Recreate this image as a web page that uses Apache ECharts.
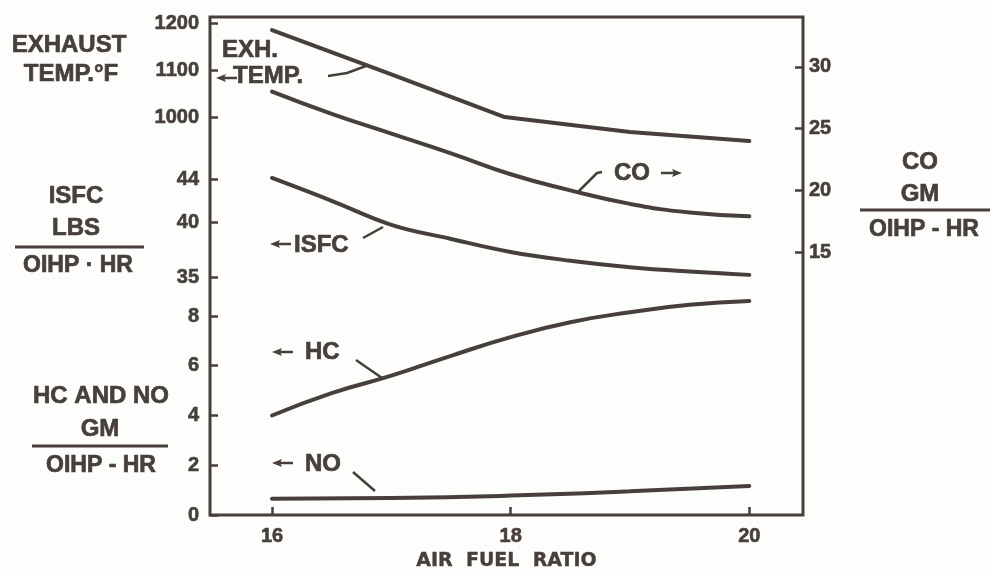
<!DOCTYPE html>
<html>
<head>
<meta charset="utf-8">
<script src="https://cdn.jsdelivr.net/npm/echarts@6/dist/echarts.min.js"></script>
<style>
  html, body { margin: 0; padding: 0; background: #fdfdfb; }
  #chart { width: 992px; height: 571px; }
</style>
</head>
<body>
<div id="chart"></div>
<script>
// air fuel ratio readings
var afr = [16, 16.5, 17, 17.5, 18, 18.5, 19, 19.5, 20];
var tempAfr = [16, 17, 17.95, 19, 20];
var exhTemp = [1185, 1091, 1000, 968, 949];          // deg F
var co = [28.0, 26.2, 24.6, 23.0, 21.3, 20.0, 18.9, 18.2, 17.9];   // gm / oihp-hr
var isfc = [44.1, 42.0, 39.8, 38.5, 37.3, 36.5, 35.9, 35.5, 35.2]; // lbs / oihp-hr
var hc = [4.0, 4.9, 5.6, 6.4, 7.15, 7.75, 8.15, 8.45, 8.6];
var noAfr = [16, 17, 18, 19, 20];
var no = [0.65, 0.68, 0.78, 0.95, 1.17];

var xTicks = [16, 18, 20];
var tempTicks = [1000, 1100, 1200];
var isfcTicks = [35, 40, 44];
var hcTicks = [0, 2, 4, 6, 8];
var coTicks = [15, 20, 25, 30];

var ink = "#473f3c";
var fnt = "Liberation Sans";

function pairs(xs, ys) {
  return xs.map(function (x, i) { return [x, ys[i]]; });
}

function lbl(ticks, margin) {
  return {
    customValues: ticks, color: ink, fontSize: 20, fontWeight: "bold", fontFamily: fnt, margin: margin,
    textBorderColor: ink, textBorderWidth: 0.6,
    formatter: function (v) { return String(v); }
  };
}

function yAx(min, max, ticks, pos) {
  return {
    type: "value",
    position: pos,
    min: min,
    max: max,
    splitLine: { show: false },
    axisLine: { show: false },
    axisTick: { show: true, inside: true, length: 8, customValues: ticks, lineStyle: { color: ink, width: 2.5 } },
    axisLabel: lbl(ticks, pos == "left" ? 11 : 6)
  };
}

function curve(name, data, yi, smooth) {
  return {
    name: name,
    type: "line",
    yAxisIndex: yi,
    data: data,
    smooth: smooth,
    symbol: "none",
    lineStyle: { color: ink, width: 4, cap: "round" }
  };
}

function txt(x, y, s, size, align) {
  return {
    type: "text", x: x, y: y, silent: true,
    style: { text: s, fill: ink, stroke: ink, lineWidth: 0.7, font: "bold " + size + "px '" + fnt + "'", align: align || "center", verticalAlign: "middle" }
  };
}
function seg(pts, w) {
  return { type: "polyline", silent: true, shape: { points: pts }, style: { stroke: ink, lineWidth: w || 2.5, fill: null } };
}
// little pointed arrow, dir -1 = left, 1 = right
function arrow(x, y, dir) {
  var tip = dir < 0 ? x : x + 22;
  var d = -dir;
  return [
    seg([[tip + d * 6, y], [tip + d * 21, y]], 2.5),
    { type: "polygon", silent: true, shape: { points: [[tip, y], [tip + d * 10, y - 4], [tip + d * 8, y], [tip + d * 10, y + 4]] }, style: { fill: ink } }
  ];
}

var g = [];
// left titles
g.push(txt(69, 45, "EXHAUST", 24));
g.push(txt(71, 74, "TEMP.°F", 24));
g.push(txt(76, 196, "ISFC", 24));
g.push(txt(76, 228, "LBS", 24));
g.push(seg([[15, 247], [144, 247]], 3));
g.push(txt(78, 266, "OIHP · HR", 23));
g.push(txt(101, 396, "HC AND NO", 24));
g.push(txt(100, 429, "GM", 24));
g.push(seg([[32, 446], [168, 446]], 3));
g.push(txt(101, 466, "OIHP - HR", 23));
// right title
g.push(txt(920, 162, "CO", 24));
g.push(txt(920, 194, "GM", 24));
g.push(seg([[860, 210], [990, 210]], 3));
g.push(txt(924, 230, "OIHP - HR", 23));
// curve labels
g.push(txt(222, 50, "EXH.", 24, "left"));
g.push(txt(233, 76, "TEMP.", 24, "left"));
g = g.concat(arrow(216, 78, -1));
g.push(seg([[328, 76], [347, 73], [366, 66]]));
g.push(txt(614, 173, "CO", 24, "left"));
g = g.concat(arrow(660, 173, 1));
g.push(seg([[602, 172], [597, 173], [577, 193]]));
g.push(txt(294, 245, "ISFC", 24, "left"));
g = g.concat(arrow(270, 244, -1));
g.push(seg([[363, 238], [383, 227]]));
g.push(txt(305, 352, "HC", 24, "left"));
g = g.concat(arrow(272, 352, -1));
g.push(seg([[356, 360], [382, 378]]));
g.push(txt(305, 464, "NO", 24, "left"));
g = g.concat(arrow(272, 463, -1));
g.push(seg([[353, 472], [375, 491]]));

var chart = echarts.init(document.getElementById("chart"));
chart.setOption({
  backgroundColor: "#fdfdfb",
  animation: false,
  grid: {
    left: 210, right: 189, top: 17, bottom: 56,
    outerBoundsMode: "none",
    show: true, borderColor: ink, borderWidth: 3, backgroundColor: "transparent"
  },
  xAxis: {
    type: "value",
    min: 15.48,
    max: 20.45,
    name: "AIR  FUEL  RATIO",
    nameLocation: "middle",
    nameGap: 37,
    nameTextStyle: { color: ink, fontSize: 19, fontWeight: "bold", fontFamily: "DejaVu Sans", textBorderColor: ink, textBorderWidth: 0.4 },
    splitLine: { show: false },
    axisLine: { show: false },
    axisTick: { show: true, inside: true, length: 8, customValues: xTicks, lineStyle: { color: ink, width: 2.5 } },
    axisLabel: lbl(xTicks, 11)
  },
  yAxis: [
    yAx(153, 1213, tempTicks, "left"),
    yAx(13.15, 58.88, isfcTicks, "left"),
    yAx(0, 20.02, hcTicks, "left"),
    yAx(-6.32, 34.05, coTicks, "right")
  ],
  series: [
    curve("EXH. TEMP.", pairs(tempAfr, exhTemp), 0, false),
    curve("CO", pairs(afr, co), 3, true),
    curve("ISFC", pairs(afr, isfc), 1, 0.4),
    curve("HC", pairs(afr, hc), 2, true),
    curve("NO", pairs(noAfr, no), 2, true)
  ],
  graphic: g
});
</script>
</body>
</html>
